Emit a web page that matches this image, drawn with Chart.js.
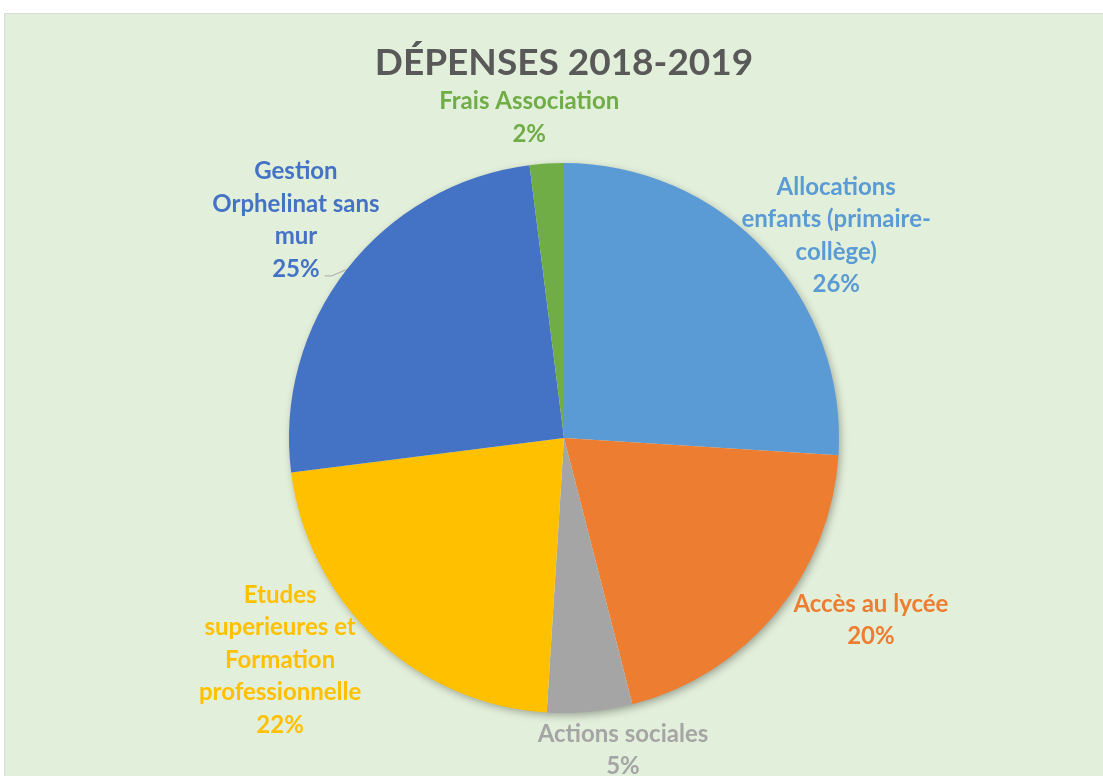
<!DOCTYPE html>
<html lang="fr">
<head>
<meta charset="UTF-8">
<title>Dépenses 2018-2019</title>
<script src="https://cdn.jsdelivr.net/npm/chart.js@4.4.0/dist/chart.umd.min.js"></script>
<style>
    html, body { margin: 0; padding: 0; background: #fff; overflow: hidden; }
    #frame {
        position: absolute; left: 4px; top: 13px;
        width: 1100px; height: 763px;
        background: #E2EFDA;
        border-left: 1px solid #D9D9D9; border-top: 1px solid #D9D9D9;
    }
    canvas { display: block; }
</style>
</head>
<body>
<div id="frame"><canvas id="pie"></canvas></div>

<script>
    // données du graphique
    const titleText = 'DÉPENSES 2018-2019';
    const categories = [
        'Allocations enfants (primaire-collège)',
        'Accès au lycée',
        'Actions sociales',
        'Etudes superieures et Formation professionnelle',
        'Gestion Orphelinat sans mur',
        'Frais Association'
    ];
    const values = [26, 20, 5, 22, 25, 2];
    const labelLines = [
        ['Allocations', 'enfants (primaire-', 'collège)'],
        ['Accès au lycée'],
        ['Actions sociales'],
        ['Etudes', 'superieures et', 'Formation', 'professionnelle'],
        ['Gestion', 'Orphelinat sans', 'mur'],
        ['Frais Association']
    ];
    const colors = ['#5B9BD5', '#ED7D31', '#A5A5A5', '#FFC000', '#4472C4', '#70AD47'];

    // placement des étiquettes : décalage d'angle (degrés) et distance relative au rayon
    const labelAngleShift = [6.6, -8.9, -5.3, 8.8, 1.3, -2.6];
    const labelDist = [1.233, 1.298, 1.155, 1.31, 1.256, 1.171];
    const leader = [false, false, false, false, true, false];

    const FONT = 'Lato, "Open Sans", sans-serif';
    const LINE_H = 32.5;

    const canvas = document.getElementById('pie');
    canvas.width = 1100;
    canvas.height = 763;

    // ombre douce sous le camembert
    const shadowPlugin = {
        id: 'pieShadow',
        beforeDatasetsDraw(chart) {
            const arc = chart.getDatasetMeta(0).data[0];
            if (!arc) return;
            const ctx = chart.ctx;
            ctx.save();
            ctx.shadowColor = 'rgba(0,0,0,0.35)';
            ctx.shadowBlur = 8;
            ctx.shadowOffsetX = 2;
            ctx.shadowOffsetY = 3;
            ctx.fillStyle = '#E2EFDA';
            ctx.beginPath();
            ctx.arc(arc.x, arc.y, arc.outerRadius - 1, 0, Math.PI * 2);
            ctx.fill();
            ctx.restore();
        }
    };

    // titre et étiquettes de données
    const labelPlugin = {
        id: 'pieLabels',
        afterDraw(chart) {
            const ctx = chart.ctx;
            const meta = chart.getDatasetMeta(0);
            const total = values.reduce((a, b) => a + b, 0);
            ctx.save();
            ctx.textAlign = 'center';
            ctx.textBaseline = 'middle';

            ctx.fillStyle = '#595959';
            ctx.font = 'bold 37px ' + FONT;
            ctx.fillText(titleText, chart.chartArea.left + (chart.chartArea.right - chart.chartArea.left) / 2, 49);

            ctx.font = 'bold 24px ' + FONT;
            meta.data.forEach((arc, i) => {
                const mid = (arc.startAngle + arc.endAngle) / 2 + labelAngleShift[i] * Math.PI / 180;
                const r = arc.outerRadius * labelDist[i];
                const cx = arc.x + Math.cos(mid) * r;
                const cy = arc.y + Math.sin(mid) * r;
                const lines = labelLines[i].concat([Math.round(values[i] / total * 100) + '%']);
                const top = cy - (lines.length * LINE_H) / 2 + LINE_H / 2;
                ctx.fillStyle = colors[i];
                lines.forEach((t, k) => ctx.fillText(t, cx, top + k * LINE_H));

                if (leader[i]) {
                    const pctW = ctx.measureText(lines[lines.length - 1]).width;
                    const lastY = top + (lines.length - 1) * LINE_H;
                    const edgeMid = (arc.startAngle + arc.endAngle) / 2;
                    ctx.strokeStyle = '#A6A6A6';
                    ctx.lineWidth = 1;
                    ctx.beginPath();
                    ctx.moveTo(cx + pctW / 2 + 5, lastY + 7);
                    ctx.lineTo(cx + pctW / 2 + 12, lastY + 7);
                    ctx.lineTo(arc.x + Math.cos(edgeMid) * arc.outerRadius, arc.y + Math.sin(edgeMid) * arc.outerRadius);
                    ctx.stroke();
                }
            });
            ctx.restore();
        }
    };

    new Chart(canvas, {
        type: 'pie',
        data: {
            labels: categories,
            datasets: [{
                data: values,
                backgroundColor: colors,
                borderWidth: 0
            }]
        },
        options: {
            responsive: false,
            animation: false,
            layout: { padding: { left: 284, right: 266, top: 149, bottom: 64 } },
            plugins: {
                legend: { display: false },
                tooltip: { enabled: false },
                title: { display: false }
            }
        },
        plugins: [shadowPlugin, labelPlugin]
    });
</script>
</body>
</html>
